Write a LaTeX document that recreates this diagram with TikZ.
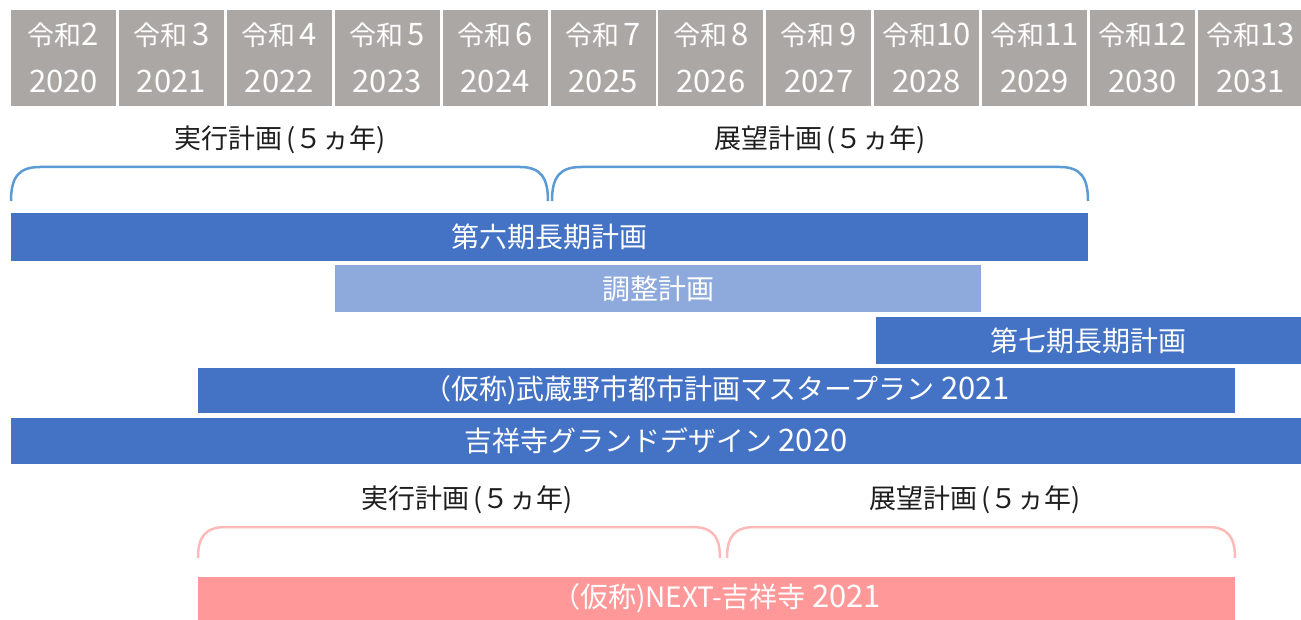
\documentclass[tikz,border=0pt]{standalone}
\usepackage{fontspec}
\setmainfont{Noto Sans CJK JP}
\definecolor{hdrgray}{HTML}{ABA7A5}
\definecolor{barblue}{HTML}{4472C4}
\definecolor{barlight}{HTML}{8EA9DB}
\definecolor{braceblue}{HTML}{5B9BD5}
\definecolor{barpink}{HTML}{FF9999}
\definecolor{bracepink}{HTML}{FFB9B9}
\definecolor{labelcol}{HTML}{1E1E1E}
\newcommand{\yr}[1]{{\fontsize{31}{47}\selectfont #1}}
\tikzset{
  hdr/.style={fill=hdrgray, draw=none, inner sep=0pt, minimum width=105pt, minimum height=96pt,
    text=white, align=center, font=\fontsize{27}{47}\selectfont},
  bar/.style={draw=none, inner sep=0pt, text=white, font=\fontsize{28}{32}\selectfont},
  plabel/.style={inner sep=0pt, text=labelcol, font=\fontsize{27}{30}\selectfont},
  bracelineb/.style={draw=braceblue, line width=2.5pt},
  bracelinep/.style={draw=bracepink, line width=2.5pt},
}
\begin{document}
\begin{tikzpicture}[x=1pt,y=-1pt]
\useasboundingbox (0,0) rectangle (1301,620);
% header
\foreach \k/\a/\b in {0/令和\yr{2}/2020,1/令和\,\yr{3}/2021,2/令和\,\yr{4}/2022,3/令和\,\yr{5}/2023,4/令和\,\yr{6}/2024,5/令和\,\yr{7}/2025,6/令和\,\yr{8}/2026,7/令和\,\yr{9}/2027,8/令和\yr{10}/2028,9/令和\yr{11}/2029,10/令和\yr{12}/2030,11/令和\yr{13}/2031}
  \node[hdr] (h\k) at ({11+107.9*\k+52.5},58) {\a\\\yr{\b}};
% upper braces
\draw[bracelineb] (11,201) .. controls (11,178) and (18,167) .. (40,167) -- (520,167) .. controls (541,167) and (548,178) .. (548,201);
\draw[bracelineb] (552,201) .. controls (552,178) and (559,167) .. (581,167) -- (1060,167) .. controls (1081,167) and (1088,178) .. (1088,201);
\node[plabel] (lab1) at (280,140) {実行計画\,(５ヵ年)};
\node[plabel] (lab2) at (820,140) {展望計画\,(５ヵ年)};
% bars
\node[bar, fill=barblue, minimum width=1077pt, minimum height=48pt] (b6) at (549.5,237) {第六期長期計画};
\node[bar, fill=barlight, minimum width=646pt, minimum height=47pt] (adj) at (658,288.5) {調整計画};
\node[bar, fill=barblue, minimum width=425pt, minimum height=47pt] (b7) at (1088.5,340.5) {第七期長期計画};
\node[bar, fill=barblue, minimum width=1037pt, minimum height=45pt] (mp) at (716.5,390.5) {（仮称)武蔵野市都市計画マスタープラン \yr{2021}};
\node[bar, fill=barblue, minimum width=1290pt, minimum height=46pt] (gd) at (656,441) {吉祥寺グランドデザイン \yr{2020}};
% lower braces
\draw[bracelinep] (198,558) .. controls (198,537) and (205,527) .. (226,527) -- (692,527) .. controls (713,527) and (720,537) .. (720,558);
\draw[bracelinep] (727,558) .. controls (727,537) and (734,527) .. (755,527) -- (1207,527) .. controls (1228,527) and (1235,537) .. (1235,558);
\node[plabel] (lab3) at (467,500) {実行計画\,(５ヵ年)};
\node[plabel] (lab4) at (975,500) {展望計画\,(５ヵ年)};
\node[bar, fill=barpink, minimum width=1037pt, minimum height=43pt] (nx) at (716.5,598.5) {（仮称)NEXT-吉祥寺 \yr{2021}};
\end{tikzpicture}
\end{document}
